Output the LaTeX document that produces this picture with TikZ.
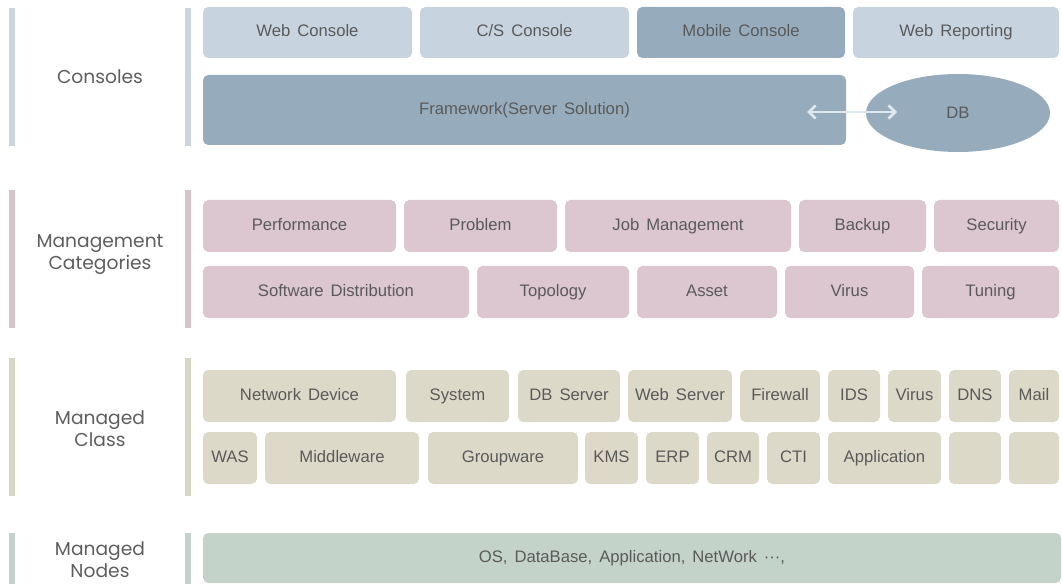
\documentclass[tikz,border=0pt]{standalone}
\usepackage{fontspec}
\setmainfont[WordSpace=1.5]{Liberation Sans}
\newfontfamily\labelfont{Poppins}
\usetikzlibrary{shapes.geometric,arrows.meta}
\definecolor{conlight}{HTML}{C7D4DF}
\definecolor{condark}{HTML}{96ACBC}
\definecolor{conbar}{HTML}{C9D4DC}
\definecolor{catfill}{HTML}{DCC6D0}
\definecolor{catbar}{HTML}{D8C3CC}
\definecolor{clsfill}{HTML}{DDD9C9}
\definecolor{clsbar}{HTML}{DAD6C5}
\definecolor{nodfill}{HTML}{C4D3CA}
\definecolor{nodbar}{HTML}{C3D2CA}
\definecolor{boxtext}{HTML}{5A5A5A}
\definecolor{labeltext}{HTML}{5E5E5E}
\definecolor{linkcol}{HTML}{E0E8EF}
\tikzset{
  box/.style={rounded corners=4pt, inner sep=0pt, text=boxtext,
    text height=9pt, text depth=2.6pt,
    font=\fontsize{12.5}{14}\selectfont},
  conbox/.style={box, fill=conlight, minimum height=51*0.75pt},
  catbox/.style={box, fill=catfill, minimum height=52*0.75pt},
  clsbox/.style={box, fill=clsfill, minimum height=52*0.75pt},
  nodbox/.style={box, fill=nodfill, minimum height=50*0.75pt},
  layer/.style={align=center, text=labeltext,
    font=\labelfont\fontsize{14}{16.5}\selectfont},
  link/.style={{Straight Barb[length=5pt,width=10pt]}-{Straight Barb[length=5pt,width=10pt]},
    line width=2pt, linkcol}
}
\begin{document}
\begin{tikzpicture}[x=0.75pt,y=-0.75pt]
\useasboundingbox (0,0) rectangle (1062,584);
% side bars
\foreach \ya/\yb/\col in {8/146/conbar,190/328/catbar,358/496/clsbar,533/584/nodbar}{
  \fill[\col] (9,\ya) rectangle (15,\yb);
  \fill[\col] (185,\ya) rectangle (191,\yb);
}
% layer labels
\node[layer] (lcon) at (100,77) {Consoles};
\node[layer] (lcat) at (100,255) {Management\\Categories};
\node[layer] (lcls) at (100,429) {Managed\\Class};
\node[layer] (lnod) at (100,560) {Managed\\Nodes};
% consoles
\node[conbox, minimum width=209*0.75pt] (webcon) at (307.5,32.5) {Web Console};
\node[conbox, minimum width=209*0.75pt] (cscon) at (524.5,32.5) {C/S Console};
\node[conbox, fill=condark, minimum width=208*0.75pt] (mobcon) at (741,32.5) {Mobile Console};
\node[conbox, minimum width=206*0.75pt] (webrep) at (956,32.5) {Web Reporting};
\node[conbox, fill=condark, minimum width=643*0.75pt, minimum height=70*0.75pt] (fw) at (524.5,110) {Framework(Server Solution)};
\node[ellipse, fill=condark, inner sep=0pt, text=boxtext, font=\fontsize{12.5}{14}\selectfont,
  minimum width=184*0.75pt, minimum height=78*0.75pt] (db) at (958,113) {DB};
\coordinate (fwlink) at (807,112);
\coordinate (dblink) at (897,112);
\draw[link] (fwlink) -- (dblink);
% management categories
\foreach \nm/\xa/\xb/\txt in {perf/203/396/Performance, prob/404/557/Problem,
  job/565/791/Job Management, backup/799/926/Backup, sec/934/1059/Security}
  \node[catbox, minimum width={(\xb-\xa)*0.75pt}] (\nm) at ({(\xa+\xb)/2},226) {\txt};
\foreach \nm/\xa/\xb/\txt in {swdist/203/469/Software Distribution, topo/477/629/Topology,
  asset/637/777/Asset, virus/785/914/Virus, tune/922/1059/Tuning}
  \node[catbox, minimum width={(\xb-\xa)*0.75pt}] (\nm) at ({(\xa+\xb)/2},292) {\txt};
% managed class
\foreach \nm/\xa/\xb/\txt in {netdev/203/396/Network Device, sys/406/509/System,
  dbsrv/518/620/DB Server, websrv/628/732/Web Server, fwall/740/820/Firewall,
  ids/828/880/IDS, vir/888/941/Virus, dns/949/1001/DNS, mail/1009/1059/Mail}
  \node[clsbox, minimum width={(\xb-\xa)*0.75pt}] (\nm) at ({(\xa+\xb)/2},396) {\txt};
\foreach \nm/\xa/\xb/\txt in {was/203/257/WAS, mid/265/419/Middleware,
  grp/428/578/Groupware, kms/585/638/KMS, erp/646/699/ERP, crm/707/759/CRM,
  cti/767/820/CTI, app/828/941/Application, blanka/949/1001/, blankb/1009/1059/}
  \node[clsbox, minimum width={(\xb-\xa)*0.75pt}] (\nm) at ({(\xa+\xb)/2},458) {\txt};
% managed nodes
\node[nodbox, minimum width=858*0.75pt] (nodes) at (632,558) {OS, DataBase, Application, NetWork ···,};
\end{tikzpicture}
\end{document}
